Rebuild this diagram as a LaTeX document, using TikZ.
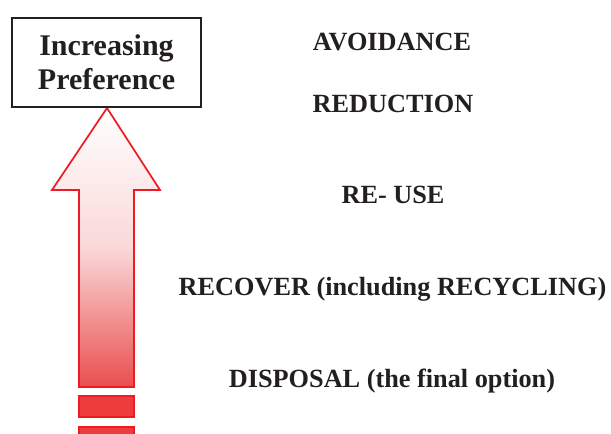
\documentclass[tikz,border=0pt]{standalone}
\usepackage{fontspec}
\setmainfont{Liberation Serif}
\definecolor{arrowred}{RGB}{237,28,36}
\definecolor{fillred}{RGB}{238,60,60}
\definecolor{shaftbot}{RGB}{234,78,78}
\definecolor{boxline}{RGB}{35,31,32}
\begin{document}
\begin{tikzpicture}[x=0.75pt,y=-0.75pt,
  level/.style={anchor=base,font=\fontsize{19.7pt}{23pt}\selectfont\bfseries,text=boxline,inner sep=0pt},
  prefbox/.style={draw=boxline,line width=1.6pt,minimum width=141.75pt,minimum height=66.75pt,
    align=center,font=\fontsize{22.5pt}{25.5pt}\selectfont\bfseries,text=boxline,inner sep=0pt},
  redline/.style={draw=arrowred,line width=1.3pt}]
\useasboundingbox (0,0) rectangle (611,433);
\clip (0,0) rectangle (611,433);
% arrow
\shade[top color=white,bottom color=shaftbot,middle color=white!78!shaftbot]
  (107,108) -- (160,190) -- (134,190) -- (134,387) -- (79,387) -- (79,190) -- (52,190) -- cycle;
\draw[redline,line join=miter]
  (107,108) -- (160,190) -- (134,190) -- (134,387) -- (79,387) -- (79,190) -- (52,190) -- cycle;
\draw[redline,fill=fillred] (79,396) rectangle (134,417);
\draw[redline,fill=fillred] (79,427) rectangle (134,445);
% box
\node[prefbox] (pref) at (106.5,62.5) {Increasing\\Preference};
% levels
\node[level] (avoid) at (392,50) {AVOIDANCE};
\node[level] (reduc) at (393,112) {REDUCTION};
\node[level] (reuse) at (393,203) {RE- USE};
\node[level] (recov) at (392.5,295) {RECOVER (including RECYCLING)};
\node[level] (disp) at (392,387) {DISPOSAL (the final option)};
\end{tikzpicture}
\end{document}
